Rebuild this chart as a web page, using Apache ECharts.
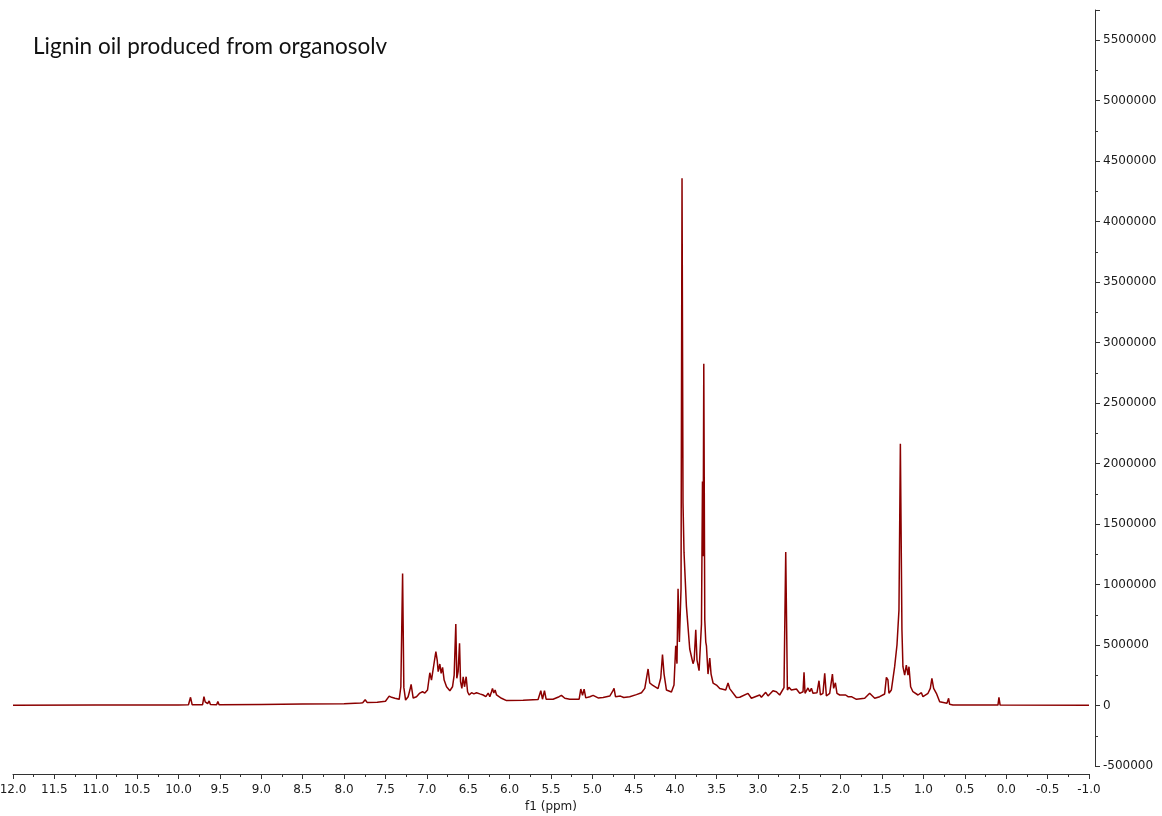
<!DOCTYPE html>
<html>
<head>
<meta charset="utf-8">
<script src="https://cdn.jsdelivr.net/npm/echarts@6/dist/echarts.min.js"></script>
<style>
  html, body { margin: 0; padding: 0; background: #ffffff; }
  #chart { width: 1162px; height: 816px; }
</style>
</head>
<body>
<div id="chart"></div>
<script>
// Chemical shifts (ppm), left to right
const shifts = [
  12.0, 11.0, 10.0, 9.88, 9.855, 9.835, 9.71, 9.693, 9.678, 9.663, 9.648, 9.630, 9.615, 9.54, 9.525, 9.51,
  9.0, 8.5, 8.0, 7.80, 7.775, 7.745, 7.72, 7.60, 7.50, 7.455, 7.426, 7.386, 7.366, 7.334, 7.314, 7.293,
  7.278, 7.257, 7.226, 7.205, 7.190, 7.178, 7.165, 7.125, 7.085, 7.052, 7.024, 6.992, 6.964, 6.944, 6.916,
  6.891, 6.875, 6.863, 6.843, 6.827, 6.810, 6.791, 6.762, 6.722, 6.690, 6.670, 6.650, 6.638, 6.622, 6.605,
  6.593, 6.577, 6.561, 6.545, 6.525, 6.508, 6.489, 6.460, 6.432, 6.400, 6.360, 6.320, 6.287, 6.259, 6.239,
  6.219, 6.207, 6.191, 6.175, 6.158, 6.138, 6.098, 6.037, 5.837, 5.656, 5.623, 5.603, 5.579, 5.559, 5.475,
  5.402, 5.374, 5.333, 5.273, 5.160, 5.140, 5.119, 5.100, 5.080, 5.031, 4.991, 4.931, 4.871, 4.790, 4.758,
  4.738, 4.721, 4.661, 4.637, 4.621, 4.549, 4.468, 4.407, 4.367, 4.327, 4.307, 4.274, 4.207, 4.174, 4.153,
  4.134, 4.105, 4.045, 4.014, 3.993, 3.978, 3.965, 3.949, 3.929, 3.917, 3.905, 3.893, 3.864, 3.824, 3.784,
  3.770, 3.751, 3.736, 3.711, 3.682, 3.670, 3.662, 3.654, 3.642, 3.630, 3.622, 3.603, 3.582, 3.566, 3.542,
  3.501, 3.461, 3.389, 3.361, 3.341, 3.260, 3.220, 3.120, 3.079, 2.979, 2.958, 2.906, 2.878, 2.818, 2.777,
  2.737, 2.685, 2.664, 2.644, 2.625, 2.596, 2.576, 2.535, 2.495, 2.455, 2.443, 2.431, 2.395, 2.374, 2.354,
  2.335, 2.286, 2.262, 2.245, 2.214, 2.193, 2.173, 2.133, 2.100, 2.085, 2.064, 2.045, 2.012, 1.940, 1.912,
  1.871, 1.810, 1.710, 1.650, 1.589, 1.529, 1.469, 1.448, 1.429, 1.417, 1.388, 1.348, 1.320, 1.296, 1.279,
  1.260, 1.248, 1.227, 1.207, 1.187, 1.175, 1.155, 1.127, 1.066, 1.025, 1.006, 0.945, 0.917, 0.898, 0.877,
  0.844, 0.804, 0.716, 0.696, 0.684, 0.644, 0.100, 0.088, 0.074, -1.0
];

// Intensities, matching the shifts above
const intensities = [
  3000, 4000, 5000, 6000, 68000, 6000, 6000, 73000, 30000, 42000, 15000, 38000, 8000, 7000, 32000, 7000,
  9000, 12000, 15000, 20000, 23000, 48000, 24000, 28000, 35000, 78000, 68000, 60000, 73000, 51000, 155000, 1092000,
  150000, 45000, 73000, 128000, 175000, 183000, 62000, 73000, 103000, 114000, 103000, 128000, 271000, 210000, 335000,
  445000, 376000, 280000, 343000, 266000, 316000, 210000, 155000, 122000, 155000, 252000, 674000, 225000, 280000, 514000,
  197000, 142000, 238000, 155000, 238000, 114000, 87000, 106000, 96000, 106000, 96000, 87000, 73000, 103000, 73000,
  114000, 142000, 103000, 128000, 87000, 73000, 60000, 41000, 44000, 49000, 122000, 52000, 122000, 52000, 52000,
  73000, 84000, 60000, 52000, 52000, 136000, 84000, 136000, 63000, 73000, 84000, 63000, 66000, 78000, 114000,
  142000, 73000, 78000, 90000, 66000, 73000, 90000, 106000, 142000, 302000, 186000, 169000, 140000, 227000, 421000,
  260000, 128000, 112000, 169000, 494000, 346000, 966000, 525000, 966000, 4359000, 1673000, 1268000, 822000, 467000, 346000,
  376000, 627000, 376000, 288000, 673000, 1852000, 1235000, 2825000, 707000, 525000, 494000, 260000, 392000, 260000, 186000,
  169000, 140000, 128000, 186000, 140000, 66000, 68000, 101000, 60000, 87000, 68000, 109000, 79000, 122000, 114000,
  87000, 147000, 1269000, 128000, 150000, 128000, 114000, 136000, 101000, 114000, 274000, 101000, 145000, 114000, 142000,
  101000, 106000, 205000, 87000, 101000, 266000, 79000, 101000, 260000, 142000, 188000, 101000, 87000, 87000, 73000,
  73000, 51000, 60000, 101000, 60000, 73000, 95000, 233000, 211000, 101000, 128000, 321000, 500000, 789000, 2165000,
  624000, 321000, 252000, 335000, 252000, 321000, 155000, 114000, 87000, 106000, 73000, 101000, 142000, 225000, 142000,
  101000, 31000, 18000, 60000, 10000, 4000, 4000, 68000, 4000, 3000
];

const chartTitle = 'Lignin oil produced from organosolv';
const xAxisName = 'f1 (ppm)';

const chart = echarts.init(document.getElementById('chart'), null, { renderer: 'canvas' });
const seriesData = shifts.map((s, i) => [s, intensities[i]]);
const axisColor = '#333333';
const labelFont = { fontFamily: 'DejaVu Sans', fontSize: 12, color: '#1a1a1a' };

chart.setOption({
  animation: false,
  backgroundColor: '#ffffff',
  title: {
    text: chartTitle,
    left: 33,
    top: 35,
    padding: 0,
    textStyle: { fontFamily: 'Lato', fontSize: 22.5, fontWeight: 'normal', color: '#111111' }
  },
  grid: { left: 13, right: 73, top: 10, bottom: 50, containLabel: false, outerBoundsMode: 'none' },
  xAxis: {
    type: 'value',
    inverse: true,
    min: -1,
    max: 12,
    interval: 0.5,
    offset: 8,
    name: xAxisName,
    nameLocation: 'middle',
    nameGap: 27,
    nameTextStyle: labelFont,
    splitLine: { show: false },
    axisLine: { show: true, onZero: false, lineStyle: { color: axisColor, width: 1 } },
    axisTick: { show: true, length: 5, lineStyle: { color: axisColor } },
    minorTick: { show: true, splitNumber: 2, length: 3, lineStyle: { color: axisColor } },
    axisLabel: Object.assign({ margin: 10, formatter: v => v.toFixed(1), showMinLabel: true, showMaxLabel: true, hideOverlap: false }, labelFont)
  },
  yAxis: {
    type: 'value',
    position: 'right',
    min: -500000,
    max: 5750000,
    interval: 500000,
    offset: 6,
    splitLine: { show: false },
    axisLine: { show: true, onZero: false, lineStyle: { color: axisColor, width: 1 } },
    axisTick: { show: true, length: 5, lineStyle: { color: axisColor } },
    minorTick: { show: true, splitNumber: 2, length: 3, lineStyle: { color: axisColor } },
    axisLabel: Object.assign({ margin: 8, formatter: v => String(v), showMaxLabel: false }, labelFont)
  },
  series: [{
    type: 'line',
    data: seriesData,
    showSymbol: false,
    symbol: 'none',
    smooth: false,
    sampling: null,
    clip: true,
    lineStyle: { color: '#8b0000', width: 1.5 },
    itemStyle: { color: '#8b0000' }
  }]
});
</script>
</body>
</html>
